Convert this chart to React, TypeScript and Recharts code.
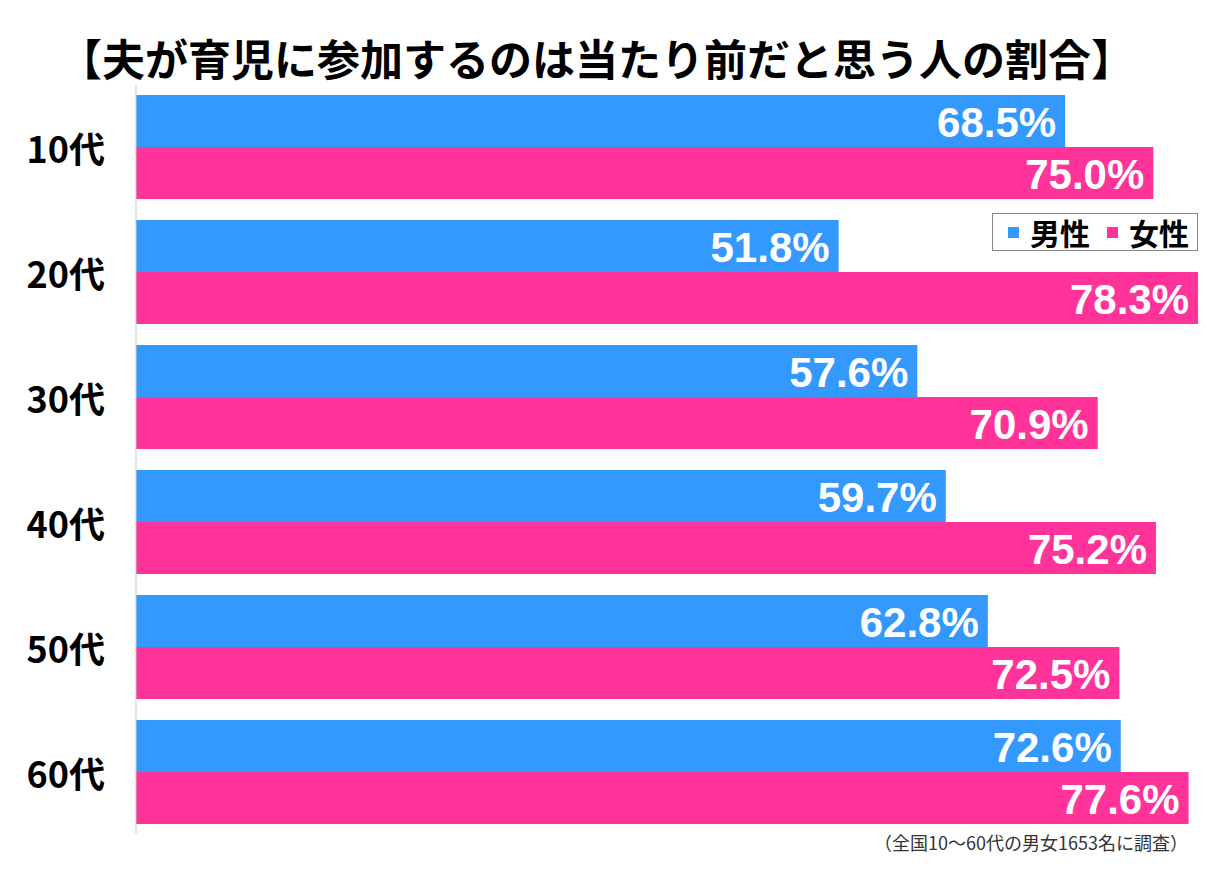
import React from "react";
import { Bar, BarChart, LabelList, XAxis, YAxis } from "recharts";

const ages = ["10代", "20代", "30代", "40代", "50代", "60代"];
const male = [68.5, 51.8, 57.6, 59.7, 62.8, 72.6];
const female = [75.0, 78.3, 70.9, 75.2, 72.5, 77.6];

const title = "【夫が育児に参加するのは当たり前だと思う人の割合】";
const note = "（全国10～60代の男女1653名に調査）";
const seriesNames = ["男性", "女性"];

const BLUE = "#3399FF";
const PINK = "#FF3399";
const JP = "'Noto Sans CJK JP', 'Noto Sans', sans-serif";
const NUM = "'Liberation Sans', Arial, sans-serif";

const data = ages.map((age, i) => ({ age, male: male[i], female: female[i] }));

function AgeTick(props) {
  const { y, payload } = props;
  return (
    <text x={105} y={y} textAnchor="end" dominantBaseline="central" fontSize={36} fontWeight="bold" fontFamily={JP} fill="#000">
      {payload.value}
    </text>
  );
}

function ValueLabel(props) {
  const { x, y, width, height, value } = props;
  return (
    <text
      x={x + width - 9}
      y={y + height / 2 + 1}
      textAnchor="end"
      dominantBaseline="central"
      fontSize={42}
      fontWeight="bold"
      fontFamily={NUM}
      fill="#fff"
    >
      {Number(value).toFixed(1)}%
    </text>
  );
}

function LegendBox() {
  const item = (color, label, gap) => (
    <span key={label} style={{ display: "inline-flex", alignItems: "center", marginRight: gap }}>
      <span style={{ width: 11, height: 11, background: color, display: "inline-block", marginRight: 11 }} />
      <span style={{ fontSize: 30, fontWeight: "bold", fontFamily: JP, color: "#000", lineHeight: "36px" }}>{label}</span>
    </span>
  );
  return (
    <div
      style={{
        position: "absolute",
        left: 992,
        top: 213,
        width: 206,
        height: 38,
        border: "1px solid #888",
        background: "#fff",
        display: "flex",
        alignItems: "center",
        paddingLeft: 15,
        boxSizing: "border-box",
      }}
    >
      {item(BLUE, seriesNames[0], 17)}
      {item(PINK, seriesNames[1], 0)}
    </div>
  );
}

export default function App() {
  return (
    <div style={{ position: "absolute", left: 0, top: 0, width: 1213, height: 878, background: "#fff" }}>
      <div
        style={{
          position: "absolute",
          left: 0,
          top: 30,
          width: 1193,
          textAlign: "center",
          fontFamily: JP,
          fontWeight: "bold",
          fontSize: 43,
          lineHeight: "54px",
          color: "#000",
          whiteSpace: "nowrap",
        }}
      >
        {title}
      </div>
      <BarChart
        width={1213}
        height={878}
        data={data}
        layout="vertical"
        margin={{ top: 84, right: 0, left: 0, bottom: 44 }}
        barGap={0}
        barSize={52}
      >
        <XAxis type="number" domain={[0, 79.4]} hide />
        <YAxis
          type="category"
          dataKey="age"
          width={136}
          axisLine={{ stroke: "#cccccc" }}
          tickLine={false}
          tick={<AgeTick />}
        />
        <Bar dataKey="male" name={seriesNames[0]} fill={BLUE} isAnimationActive={false}>
          <LabelList dataKey="male" content={<ValueLabel />} />
        </Bar>
        <Bar dataKey="female" name={seriesNames[1]} fill={PINK} isAnimationActive={false}>
          <LabelList dataKey="female" content={<ValueLabel />} />
        </Bar>
      </BarChart>
      <LegendBox />
      <div
        style={{
          position: "absolute",
          left: 874,
          top: 829,
          fontFamily: JP,
          fontSize: 18,
          lineHeight: "26px",
          color: "#333",
          whiteSpace: "nowrap",
        }}
      >
        {note}
      </div>
    </div>
  );
}
